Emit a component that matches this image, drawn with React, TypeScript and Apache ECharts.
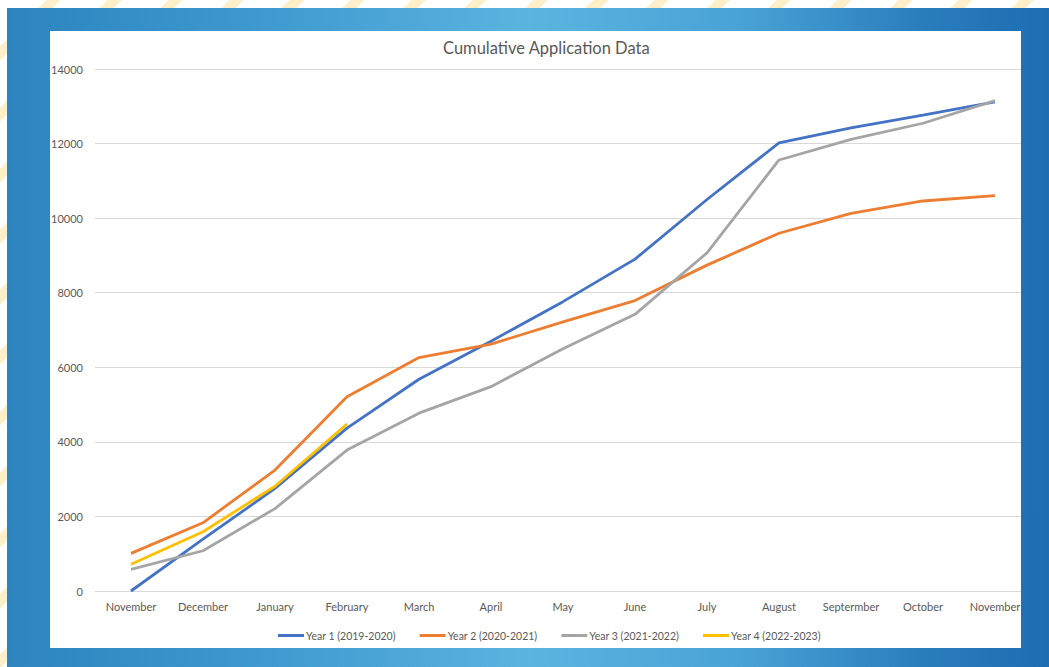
import React, { useEffect, useRef } from "react";
import * as echarts from "echarts";

const months = ["November", "December", "January", "February", "March", "April", "May", "June", "July", "August", "Septermber", "October", "November"];
const year1 = [0, 1390, 2750, 4370, 5680, 6700, 7760, 8900, 10500, 12020, 12420, 12760, 13120];
const year2 = [1010, 1830, 3245, 5210, 6260, 6620, 7220, 7790, 8740, 9595, 10130, 10460, 10605];
const year3 = [580, 1080, 2210, 3780, 4770, 5480, 6500, 7420, 9070, 11560, 12115, 12545, 13150];
const year4 = [720, 1590, 2810, 4480, null, null, null, null, null, null, null, null, null];
const seriesNames = ["Year 1 (2019-2020)", "Year 2 (2020-2021)", "Year 3 (2021-2022)", "Year 4 (2022-2023)"];
const seriesColors = ["#4472C4", "#ED7D31", "#A5A5A5", "#FFC000"];

const FONT = "Lato, 'Open Sans', sans-serif";

export default function App() {
  const ref = useRef<HTMLDivElement>(null);
  useEffect(() => {
    document.body.style.margin = "0";
    const chart = echarts.init(ref.current!, undefined, { renderer: "svg" });
    const data = [year1, year2, year3, year4];
    chart.setOption({
      animation: false,
      textStyle: { fontFamily: FONT },
      title: {
        text: "Cumulative Application Data",
        left: 388,
        top: 3,
        textStyle: { fontSize: 16.5, fontWeight: "normal", color: "#595959", fontFamily: FONT },
      },
      legend: {
        left: 223,
        top: 594,
        itemWidth: 26,
        itemHeight: 3,
        itemGap: 24,
        icon: "rect",
        textStyle: { fontSize: 10.5, color: "#595959", fontFamily: FONT, padding: [0, 0, 0, -3] },
        data: seriesNames,
      },
      grid: { left: 45, top: 38, width: 936, height: 522, outerBoundsMode: "none", containLabel: false },
      xAxis: {
        type: "category",
        data: months,
        boundaryGap: true,
        axisLine: { lineStyle: { color: "#D9D9D9", width: 1 } },
        axisTick: { show: false },
        axisLabel: { color: "#595959", fontSize: 11, margin: 10, interval: 0, fontFamily: FONT },
      },
      yAxis: {
        type: "value",
        min: 0,
        max: 14000,
        interval: 2000,
        axisLine: { show: false },
        axisTick: { show: false },
        axisLabel: { color: "#595959", fontSize: 11, margin: 12, fontFamily: FONT, formatter: (v: number) => String(v) },
        splitLine: { lineStyle: { color: "#D9D9D9", width: 1 } },
      },
      series: data.map((d, i) => ({
        name: seriesNames[i],
        type: "line",
        data: d,
        symbol: "none",
        showSymbol: false,
        connectNulls: false,
        lineStyle: { width: 2.8, color: seriesColors[i] },
        itemStyle: { color: seriesColors[i] },
      })),
    });
    return () => chart.dispose();
  }, []);

  return (
    <div
      style={{
        position: "fixed",
        left: 0,
        top: 0,
        width: 1049,
        height: 667,
        overflow: "hidden",
        background:
          "repeating-linear-gradient(135deg, #ffffff 0px, #ffffff 33px, #fdf0c8 33px, #fdf0c8 43px)",
      }}
    >
      <div
        style={{
          position: "absolute",
          left: 7,
          top: 8,
          width: 1042,
          height: 659,
          background:
            "linear-gradient(to right, #2d84bf 0%, #3f9acf 25%, #5bb3df 50%, #4aa3d6 70%, #2a7dbd 88%, #1c6db2 100%)",
        }}
      >
        <div
          style={{
            position: "absolute",
            left: 43,
            top: 23,
            width: 971,
            height: 617,
            background: "#ffffff",
            overflow: "hidden",
          }}
        >
          <div ref={ref} style={{ width: 971, height: 617 }} />
        </div>
      </div>
    </div>
  );
}
